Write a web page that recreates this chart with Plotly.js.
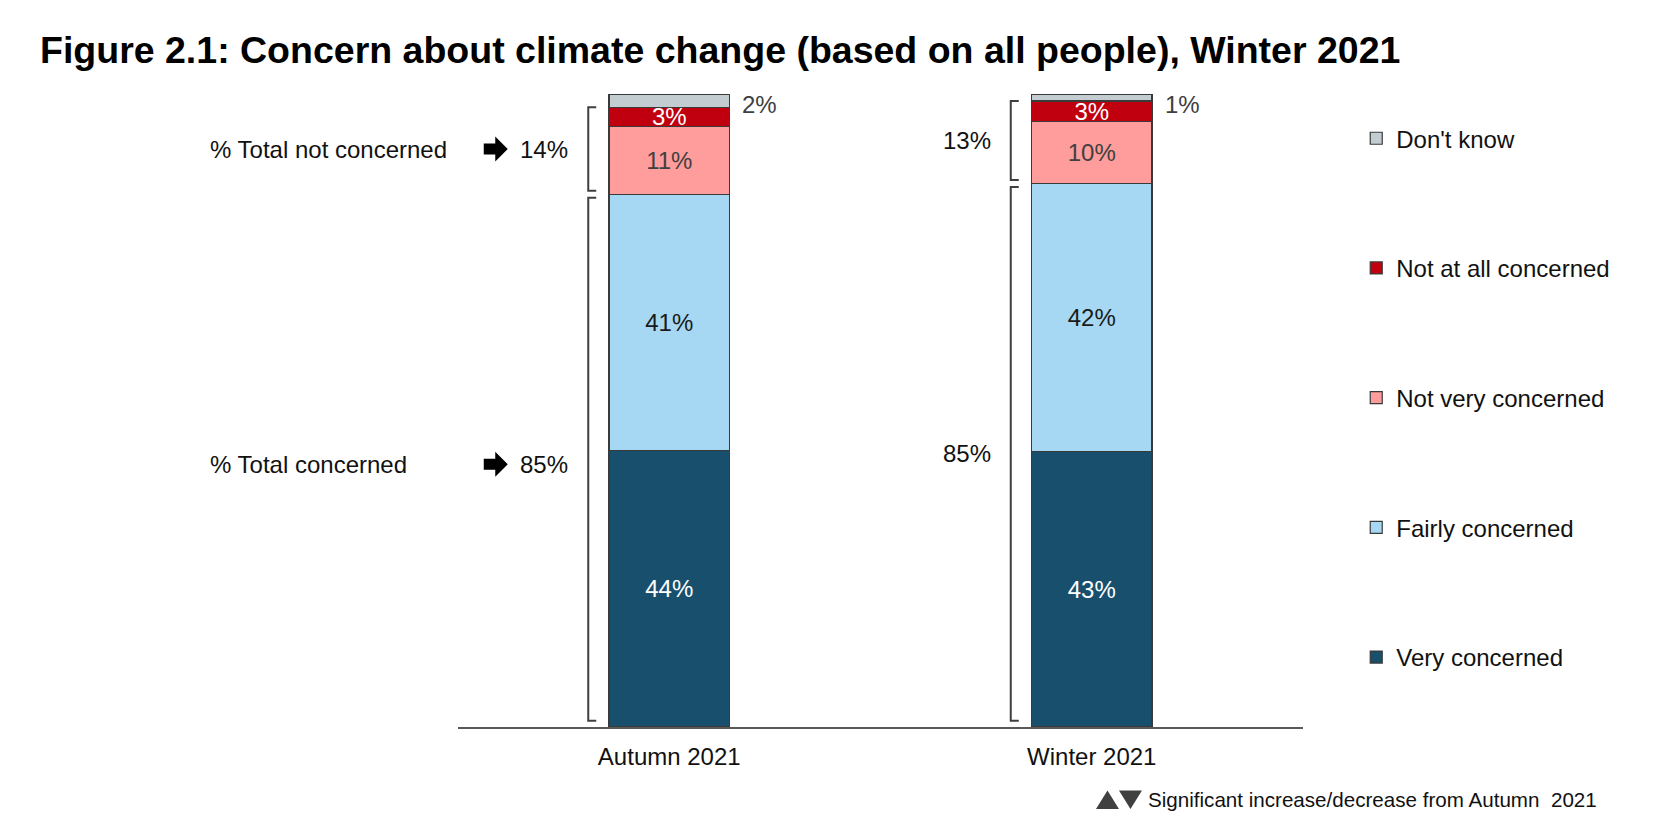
<!DOCTYPE html>
<html>
<head>
<meta charset="utf-8">
<script src="https://cdn.plot.ly/plotly-3.0.1.min.js"></script>
<style>html,body{margin:0;padding:0;background:#fff;}#chart{width:1668px;height:828px;}</style>
</head>
<body>
<div id="chart"></div>
<script>
// ---- data ----
const categories = ['Autumn 2021', 'Winter 2021'];
const seriesNames = ['Very concerned', 'Fairly concerned', 'Not very concerned', 'Not at all concerned', "Don't know"];
const veryConcerned = [43.7, 43.5];
const fairlyConcerned = [40.4, 42.3];
const notVeryConcerned = [10.8, 9.9];
const notAtAllConcerned = [3.0, 3.2];
const dontKnow = [2.1, 1.1];
const veryLabels = ['44%', '43%'];
const fairlyLabels = ['41%', '42%'];
const notVeryLabels = ['11%', '10%'];
const notAtAllLabels = ['3%', '3%'];
const dontKnowLabels = ['2%', '1%'];
const totalNotConcerned = ['14%', '13%'];
const totalConcerned = ['85%', '85%'];
const rowLabels = ['% Total not concerned', '% Total concerned'];
const titleText = 'Figure 2.1: Concern about climate change (based on all people), Winter 2021';
const noteText = 'Significant increase/decrease from Autumn\u00a0\u00a02021';

// ---- styles ----
const FONT = 'Liberation Sans, Arial, sans-serif';
const colors = ['#174F6D', '#A6D8F3', '#FF9C9C', '#C0000F', '#C3CCD1'];
const textColors = ['#ffffff', '#1a1a1a', '#404040', '#ffffff', '#404040'];
const edge = '#3a3a3a';
const BAR_W = 0.285;

const xs = categories.map((c, i) => i);
const values = [veryConcerned, fairlyConcerned, notVeryConcerned, notAtAllConcerned, dontKnow];
const labels = [veryLabels, fairlyLabels, notVeryLabels, notAtAllLabels, dontKnowLabels];

const traces = values.map((v, k) => ({
  type: 'bar',
  name: seriesNames[k],
  legendgroup: 'g' + k,
  legendrank: 10 - k,
  x: xs,
  y: v,
  width: BAR_W,
  marker: { color: colors[k], line: { color: edge, width: 1.2 } },
  text: k < 4 ? labels[k] : undefined,
  textposition: k < 4 ? 'inside' : 'none',
  insidetextanchor: 'middle',
  textangle: 0,
  constraintext: 'none',
  textfont: { family: FONT, size: 24, color: textColors[k] },
  hoverinfo: 'skip'
}));

// cumulative tops
const cum2 = xs.map(i => veryConcerned[i] + fairlyConcerned[i]);
const cum4 = xs.map(i => cum2[i] + notVeryConcerned[i] + notAtAllConcerned[i]);
const cum5 = xs.map(i => cum4[i] + dontKnow[i]);

const shapes = [];
const annotations = [];
const BR_X = -81, BR_T = -73;
xs.forEach(i => {
  const lower = [1, cum2[i] - 0.5];
  const upper = [cum2[i] + 0.6, cum4[i]];
  [lower, upper].forEach(b => {
    shapes.push({
      type: 'path', xref: 'x', xsizemode: 'pixel', xanchor: i, yref: 'y',
      path: `M ${BR_T},${b[0]} L ${BR_X},${b[0]} L ${BR_X},${b[1]} L ${BR_T},${b[1]}`,
      line: { color: '#3f3f3f', width: 2 }
    });
  });
  const upMid = (upper[0] + upper[1]) / 2;
  const loMid = (lower[0] + lower[1]) / 2;
  annotations.push({
    xref: 'x', yref: 'y', x: i, y: upMid, xanchor: 'right', yanchor: 'middle',
    xshift: BR_X - 18, showarrow: false, text: totalNotConcerned[i],
    font: { family: FONT, size: 24, color: '#111' }
  });
  annotations.push({
    xref: 'x', yref: 'y', x: i, y: loMid, xanchor: 'right', yanchor: 'middle',
    xshift: BR_X - 18, yshift: i === 0 ? -5 : 0, showarrow: false, text: totalConcerned[i],
    font: { family: FONT, size: 24, color: '#111' }
  });
  // don't know label outside
  annotations.push({
    xref: 'x', yref: 'y', x: i + BAR_W / 2, y: cum5[i], xanchor: 'left', yanchor: 'middle',
    xshift: 11, yshift: -10, showarrow: false, text: dontKnowLabels[i],
    font: { family: FONT, size: 24, color: '#404040' }
  });
  if (i === 0) {
    [upMid, loMid].forEach((m, r) => {
      shapes.push({
        type: 'path', xref: 'x', xsizemode: 'pixel', xanchor: 0,
        yref: 'y', ysizemode: 'pixel', yanchor: m,
        path: (r === 1
          ? 'M -185.5,-10.5 L -174,-10.5 L -174,-17.5 L -161.5,-5 L -174,7.5 L -174,0.5 L -185.5,0.5 Z'
          : 'M -185.5,-5.5 L -174,-5.5 L -174,-12.5 L -161.5,0 L -174,12.5 L -174,5.5 L -185.5,5.5 Z'),
        fillcolor: '#000', line: { color: '#000', width: 0 }
      });
      annotations.push({
        xref: 'paper', yref: 'y', x: -0.2959, y: m, xanchor: 'left', yanchor: 'middle',
        yshift: r === 1 ? -5 : 0, showarrow: false, text: rowLabels[r],
        font: { family: FONT, size: 24, color: '#111' }
      });
    });
  }
});

// significance note: triangles + text
shapes.push({
  type: 'path', xref: 'paper', xsizemode: 'pixel', xanchor: 0.755,
  yref: 'paper', ysizemode: 'pixel', yanchor: -0.1153,
  path: 'M 0,-9 L 23,-9 L 11.5,9.5 Z M 23,9.5 L 46,9.5 L 34.5,-9 Z',
  fillcolor: '#404040', line: { color: '#404040', width: 0 }
});
annotations.push({
  xref: 'paper', yref: 'paper', x: 1.3503, y: -0.1153, xanchor: 'right', yanchor: 'middle',
  showarrow: false, text: noteText,
  font: { family: FONT, size: 20.6, color: '#111' }
});

const layout = {
  width: 1668, height: 828,
  paper_bgcolor: '#fff', plot_bgcolor: '#fff',
  margin: { l: 458, r: 365, t: 94, b: 101, pad: 0 },
  font: { family: FONT, size: 24, color: '#111' },
  title: {
    text: titleText, x: 40 / 1668, xref: 'container', xanchor: 'left',
    y: 1 - 50 / 828, yref: 'container', yanchor: 'middle',
    font: { family: FONT, size: 37.5, weight: 700, color: '#000' }
  },
  barmode: 'stack',
  showlegend: true,
  legend: {
    x: 1.063, xanchor: 'left', y: 0.965, yanchor: 'top',
    traceorder: 'grouped', tracegroupgap: 95.5,
    font: { family: FONT, size: 24, color: '#111' },
    bgcolor: 'rgba(0,0,0,0)'
  },
  xaxis: {
    range: [-0.5, 1.5], tickvals: xs, ticktext: categories,
    showline: true, linecolor: '#595959', linewidth: 2,
    showgrid: false, zeroline: false, ticks: '', ticklabelstandoff: 7,
    tickfont: { family: FONT, size: 24, color: '#111' }, fixedrange: true
  },
  yaxis: { range: [0, 100], visible: false, showgrid: false, zeroline: false, fixedrange: true },
  shapes: shapes,
  annotations: annotations
};

Plotly.newPlot('chart', traces, layout, { displayModeBar: false, staticPlot: true });
</script>
</body>
</html>
